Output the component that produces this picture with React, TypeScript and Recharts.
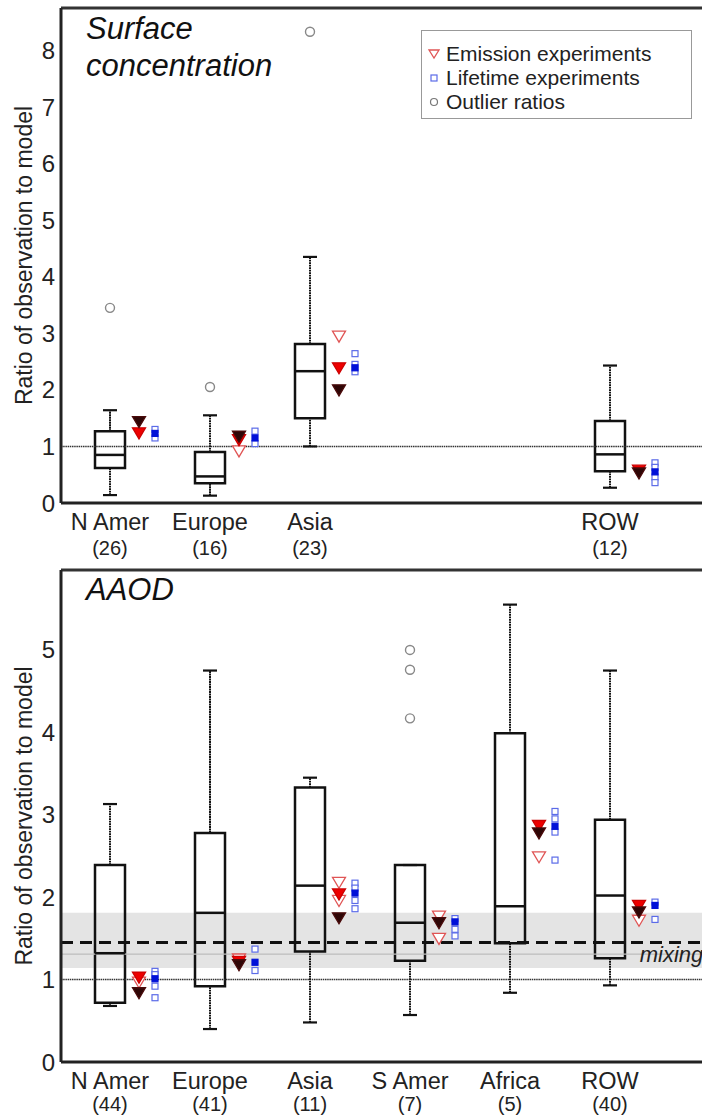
import { ComposedChart, Scatter, XAxis, YAxis, ReferenceArea, ReferenceLine, Legend } from "recharts";

const regions = ["N Amer", "Europe", "Asia", "S Amer", "Africa", "ROW"];

// Surface concentration: box statistics per region (null = no stations)
const surfaceCounts = ["(26)", "(16)", "(23)", "", "", "(12)"];
const surfaceLow = [0.14, 0.13, 1.0, null, null, 0.27];
const surfaceQ1 = [0.62, 0.35, 1.5, null, null, 0.56];
const surfaceMedian = [0.85, 0.47, 2.33, null, null, 0.86];
const surfaceQ3 = [1.27, 0.9, 2.81, null, null, 1.45];
const surfaceHigh = [1.64, 1.55, 4.35, null, null, 2.43];
const surfaceOutliers = [[3.45], [2.05], [8.33], [], [], []];
const surfaceEmisOpen = [[], [0.92], [2.95], [], [], []];
const surfaceEmisRed = [[1.24], [1.12], [2.39], [], [], [0.58]];
const surfaceEmisDark = [[1.44], [1.18], [2.0], [], [], [0.53]];
const surfaceLifeOpen = [[1.3, 1.15], [1.27, 1.05], [2.64, 2.45, 2.32], [], [], [0.71, 0.63, 0.46, 0.36]];
const surfaceLifeFilled = [[1.23], [1.15], [2.39], [], [], [0.55]];

// AAOD
const aaodCounts = ["(44)", "(41)", "(11)", "(7)", "(5)", "(40)"];
const aaodLow = [0.68, 0.4, 0.48, 0.57, 0.84, 0.93];
const aaodQ1 = [0.72, 0.92, 1.34, 1.23, 1.44, 1.26];
const aaodMedian = [1.32, 1.81, 2.14, 1.69, 1.89, 2.02];
const aaodQ3 = [2.39, 2.78, 3.33, 2.39, 3.99, 2.94];
const aaodHigh = [3.13, 4.75, 3.45, 2.39, 5.55, 4.75];
const aaodOutliers = [[], [], [], [5.0, 4.76, 4.17], [], []];
const aaodEmisOpen = [[0.97], [1.25], [2.18, 1.96], [1.77, 1.5], [2.49], [1.72]];
const aaodEmisRed = [[1.03], [1.22], [2.04], [], [2.87], [1.9]];
const aaodEmisDark = [[0.84], [1.18], [1.75], [1.69], [2.78], [1.82]];
const aaodLifeOpen = [[1.1, 1.06, 0.92, 0.78], [1.37, 1.11], [2.17, 2.11, 1.96, 1.86], [1.74, 1.61, 1.53], [3.04, 2.95, 2.79, 2.45], [1.94, 1.73]];
const aaodLifeFilled = [[1.01], [1.21], [2.05], [1.7], [2.86], [1.9]];
const mixingBand = [1.14, 1.81];
const mixingCentral = 1.31;
const mixingMean = 1.45;

const FONT = "'Liberation Sans', Arial, sans-serif";
const X_DOMAIN = [0.51, 7.5];
const BOX_HALF = 0.15;
const CAP_HALF = 0.07;
const EMIS_OFFSET = 0.29;
const LIFE_OFFSET = 0.45;

const toPoints = (groups: number[][], offset: number) =>
    groups.flatMap((vals, i) => vals.map(v => ({ x: i + 1 + offset, y: v })));

const triangle = (fill: string, stroke: string) => (p: any) => (
    <polygon
        points={`${p.cx - 6.5},${p.cy - 5} ${p.cx + 6.5},${p.cy - 5} ${p.cx},${p.cy + 6}`}
        fill={fill}
        stroke={stroke}
        strokeWidth={1.3}
    />
);
const square = (fill: string, stroke: string) => (p: any) => (
    <rect x={p.cx - 3} y={p.cy - 3} width={6} height={6} fill={fill} stroke={stroke} strokeWidth={1.2} />
);
const circle = (p: any) => <circle cx={p.cx} cy={p.cy} r={4.5} fill="none" stroke="#888" strokeWidth={1.4} />;

function LegendBox() {
    const row = { display: "flex", alignItems: "center", height: 24 } as const;
    return (
        <div style={{ border: "1.5px solid #999", background: "#fff", padding: "11px 8px 4px 4px", fontFamily: FONT, fontSize: 21, color: "#222", lineHeight: "24px" }}>
            <div style={row}>
                <svg width={20} height={14}><polygon points="3,3 13,3 8,11" fill="none" stroke="#e05555" strokeWidth={1.3} /></svg>
                <span style={{ marginLeft: 0 }}>Emission experiments</span>
            </div>
            <div style={row}>
                <svg width={20} height={14}><rect x={5} y={4} width={6} height={6} fill="none" stroke="#5b6be8" strokeWidth={1.2} /></svg>
                <span style={{ marginLeft: 0 }}>Lifetime experiments</span>
            </div>
            <div style={row}>
                <svg width={20} height={14}><circle cx={8} cy={7} r={3.5} fill="none" stroke="#777" strokeWidth={1.2} /></svg>
                <span style={{ marginLeft: 0 }}>Outlier ratios</span>
            </div>
        </div>
    );
}

function Panel(props: any) {
    const { height, margin, xAxisHeight, yMax, yTicks, counts, low, q1, median, q3, high, outliers,
        emisOpen, emisRed, emisDark, lifeOpen, lifeFilled, nameY, countY, mixing, legend, title } = props;

    const RegionTick = ({ x, y, payload }: any) => {
        const i = payload.value - 1;
        if (!counts[i]) return null;
        return (
            <g fontFamily={FONT} fill="#222">
                <text x={x} y={y + nameY} textAnchor="middle" fontSize={23.5}>{regions[i]}</text>
                <text x={x} y={y + countY} textAnchor="middle" fontSize={20}>{counts[i]}</text>
            </g>
        );
    };

    return (
        <div style={{ position: "relative", width: 760, height }}>
            <ComposedChart width={760} height={height} margin={margin}>
                <XAxis type="number" dataKey="x" domain={X_DOMAIN} allowDataOverflow ticks={[1, 2, 3, 4, 5, 6]}
                    interval={0} height={xAxisHeight} tickLine={false} tickSize={0} tickMargin={0}
                    axisLine={{ stroke: "#222", strokeWidth: 3 }} tick={<RegionTick />} />
                <YAxis type="number" dataKey="y" domain={[0, yMax]} allowDataOverflow ticks={yTicks} width={61}
                    tickLine={false} tickSize={0} tickMargin={6} axisLine={{ stroke: "#222", strokeWidth: 3 }}
                    tick={{ fontSize: 24, fill: "#222", fontFamily: FONT }}
                    label={{
                        content: ({ viewBox }: any) => (
                            <text transform={`translate(${viewBox.x + 24},${viewBox.y + viewBox.height / 2}) rotate(-90)`}
                                textAnchor="middle" dominantBaseline="central" fontSize={23} fontFamily={FONT} fill="#222">
                                Ratio of observation to model
                            </text>
                        ),
                    }} />

                {mixing && <ReferenceArea y1={mixingBand[0]} y2={mixingBand[1]} fill="#e4e4e4" fillOpacity={1} stroke="none" />}
                {mixing && <ReferenceLine y={mixingCentral} stroke="#bdbdbd" strokeWidth={1.2} />}
                <ReferenceLine y={1} stroke="#333" strokeWidth={1.5} strokeDasharray="1.5 0.7" />
                <ReferenceLine y={yMax} stroke="#333" strokeWidth={3} />

                {regions.map((_, i) => {
                    if (median[i] == null) return null;
                    const c = i + 1;
                    const whisker = { stroke: "#111", strokeWidth: 2, strokeDasharray: "1.8 0.7" };
                    const cap = { stroke: "#111", strokeWidth: 2.2 };
                    return [
                        <ReferenceLine key={`wl${i}`} segment={[{ x: c, y: low[i] }, { x: c, y: q1[i] }]} {...whisker} />,
                        <ReferenceLine key={`wh${i}`} segment={[{ x: c, y: q3[i] }, { x: c, y: high[i] }]} {...whisker} />,
                        <ReferenceLine key={`cl${i}`} segment={[{ x: c - CAP_HALF, y: low[i] }, { x: c + CAP_HALF, y: low[i] }]} {...cap} />,
                        <ReferenceLine key={`ch${i}`} segment={[{ x: c - CAP_HALF, y: high[i] }, { x: c + CAP_HALF, y: high[i] }]} {...cap} />,
                        <ReferenceArea key={`b${i}`} x1={c - BOX_HALF} x2={c + BOX_HALF} y1={q1[i]} y2={q3[i]}
                            fill="none" stroke="#111" strokeWidth={2.5} />,
                        <ReferenceLine key={`m${i}`} segment={[{ x: c - BOX_HALF, y: median[i] }, { x: c + BOX_HALF, y: median[i] }]}
                            stroke="#111" strokeWidth={2.5} />,
                    ];
                })}

                {mixing && (
                    <ReferenceLine y={mixingMean} stroke="#111" strokeWidth={3} strokeDasharray="12 7"
                        label={{
                            content: ({ viewBox }: any) => (
                                <text x={viewBox.x + viewBox.width * 0.828} y={viewBox.y + 19} fontSize={22}
                                    fontStyle="italic" fontFamily={FONT} fill="#222">mixing</text>
                            ),
                        }} />
                )}

                <Scatter data={toPoints(outliers, 0)} shape={circle} isAnimationActive={false} />
                <Scatter data={toPoints(emisOpen, EMIS_OFFSET)} shape={triangle("#fff", "#e05555")} isAnimationActive={false} />
                <Scatter data={toPoints(emisRed, EMIS_OFFSET)} shape={triangle("#ee0000", "#cc0000")} isAnimationActive={false} />
                <Scatter data={toPoints(emisDark, EMIS_OFFSET)} shape={triangle("#2e0606", "#4a0a0a")} isAnimationActive={false} />
                <Scatter data={toPoints(lifeOpen, LIFE_OFFSET)} shape={square("#fff", "#5b6be8")} isAnimationActive={false} />
                <Scatter data={toPoints(lifeFilled, LIFE_OFFSET)} shape={square("#0010d8", "#0010d8")} isAnimationActive={false} />

                {legend && (
                    <Legend layout="vertical" align="center" verticalAlign="middle" content={<LegendBox />}
                        wrapperStyle={{ position: "absolute", left: 421, top: 30, width: 271, height: "auto" }} />
                )}
            </ComposedChart>
            <div style={{ position: "absolute", left: 86, top: title.top, fontFamily: FONT, fontStyle: "italic", fontSize: 31, lineHeight: "37px", color: "#111" }}>
                {title.lines.map((t: string) => <div key={t}>{t}</div>)}
            </div>
        </div>
    );
}

export default function App() {
    return (
        <div style={{ position: "absolute", left: 0, top: 0, width: 702, height: 1116, overflow: "hidden", background: "#fff" }}>
            <Panel
                height={560}
                margin={{ top: 8, right: 0, bottom: 3, left: 0 }}
                xAxisHeight={54}
                yMax={8.75}
                yTicks={[0, 1, 2, 3, 4, 5, 6, 7, 8]}
                counts={surfaceCounts}
                low={surfaceLow} q1={surfaceQ1} median={surfaceMedian} q3={surfaceQ3} high={surfaceHigh}
                outliers={surfaceOutliers}
                emisOpen={surfaceEmisOpen} emisRed={surfaceEmisRed} emisDark={surfaceEmisDark}
                lifeOpen={surfaceLifeOpen} lifeFilled={surfaceLifeFilled}
                nameY={27} countY={52}
                mixing={false}
                legend={true}
                title={{ top: 10, lines: ["Surface", "concentration"] }}
            />
            <Panel
                height={556}
                margin={{ top: 10, right: 0, bottom: 4, left: 0 }}
                xAxisHeight={50}
                yMax={5.97}
                yTicks={[0, 1, 2, 3, 4, 5]}
                counts={aaodCounts}
                low={aaodLow} q1={aaodQ1} median={aaodMedian} q3={aaodQ3} high={aaodHigh}
                outliers={aaodOutliers}
                emisOpen={aaodEmisOpen} emisRed={aaodEmisRed} emisDark={aaodEmisDark}
                lifeOpen={aaodLifeOpen} lifeFilled={aaodLifeFilled}
                nameY={26.5} countY={49}
                mixing={true}
                legend={false}
                title={{ top: 11, lines: ["AAOD"] }}
            />
        </div>
    );
}
